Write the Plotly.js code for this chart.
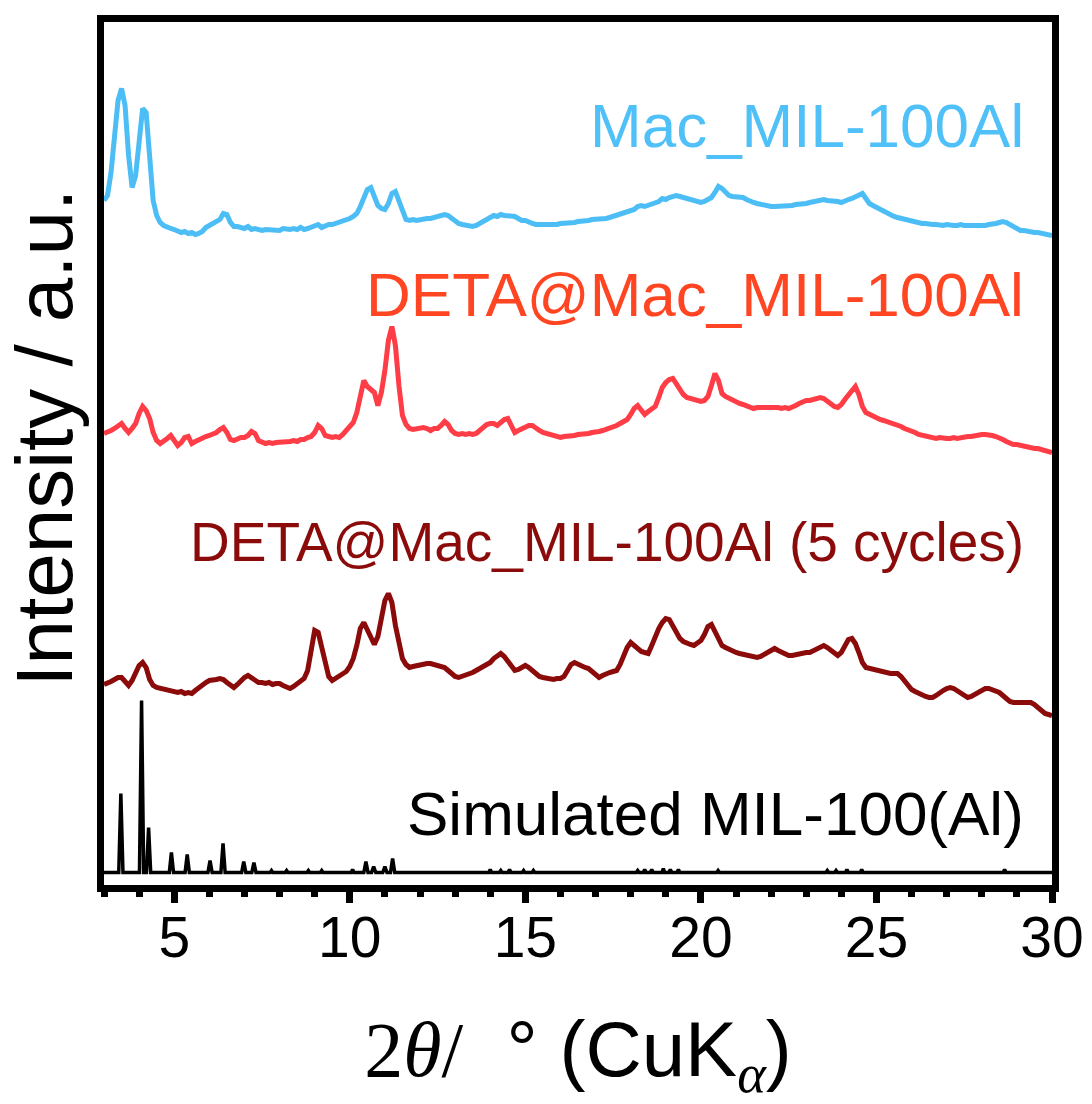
<!DOCTYPE html>
<html>
<head>
<meta charset="utf-8">
<script src="https://cdn.plot.ly/plotly-3.0.1.min.js"></script>
<style>html,body{margin:0;padding:0;background:#fff;}#chart{width:1092px;height:1104px;}</style>
</head>
<body>
<div id="chart"></div>
<script>
// 2theta grid: first angle and step (degrees) of the measured patterns
const twoThetaStart = 3.0;
const twoThetaStep = 0.1;

// Mac_MIL-100Al (stacked intensity, a.u.), 3.0 .. 30.0 deg
const macMIL = [
688,693,716,753,788,800,783,733,701,713,
753,780,776,728,688,673,666,663,661,660,
659,657,656,657,655,656,654,655,657,661,
663,664,666,669,675,674,666,662,662,661,
660,662,659,660,659,658,659,659,658,659,
658,660,659,659,660,659,661,659,660,661,
662,664,661,663,664,664,665,666,667,669,
670,672,675,682,692,699,701,692,683,680,
679,685,695,697,688,676,669,668,669,668,
669,669,670,670,671,672,673,674,673,670,
667,665,664,663,662,662,663,665,667,669,
671,673,672,674,673,673,672,672,670,668,
668,666,665,664,664,663,664,663,664,664,
665,665,666,666,666,667,667,668,668,669,
669,670,670,670,671,672,673,674,676,677,
678,679,682,683,682,683,685,686,687,690,
689,691,692,693,692,691,689,688,687,686,
686,687,689,691,696,702,700,696,693,692,
692,691,691,689,687,686,685,684,683,683,
682,682,682,683,682,683,683,684,684,685,
685,686,687,688,689,689,688,688,687,687,
686,688,689,690,692,694,695,690,685,683,
681,679,677,675,674,672,671,670,669,668,
667,667,666,665,665,664,664,664,663,663,
664,663,663,663,664,663,663,662,663,663,
663,663,664,664,665,666,667,666,664,661,
659,658,658,657,657,656,656,655,655,654,
653];

// DETA@Mac_MIL-100Al
const detaMIL = [
455,456,458,460,463,465,460,456,460,465,
475,482,478,470,456,448,445,447,450,453,
448,443,446,451,452,445,447,449,450,452,
453,454,456,459,461,456,449,448,450,451,
451,453,457,455,448,446,445,446,445,446,
446,447,446,447,448,447,449,449,451,452,
456,463,460,453,452,451,452,451,454,458,
461,466,476,495,508,502,499,496,483,496,
518,548,562,543,503,473,464,460,459,460,
461,461,460,458,460,460,463,467,464,458,
455,454,455,454,455,454,455,458,461,464,
465,465,463,466,469,470,462,456,458,460,
462,463,463,460,458,456,455,454,453,452,
451,452,452,453,453,454,454,455,455,456,
456,457,458,459,460,461,463,465,467,469,
474,480,483,478,474,477,480,482,491,501,
506,509,510,504,498,494,491,490,489,488,
487,488,492,503,515,508,495,492,490,488,
486,485,484,483,481,480,481,481,482,482,
482,482,481,480,481,480,481,483,485,487,
488,488,489,490,491,490,487,484,482,481,
484,489,494,499,502,494,482,476,474,472,
470,469,468,467,466,464,463,462,460,459,
457,456,454,453,452,451,451,450,451,450,
450,450,451,450,451,451,452,452,453,453,
454,454,454,453,452,451,449,447,445,444,
444,443,442,442,441,440,440,439,438,437,
436];

// DETA@Mac_MIL-100Al (5 cycles)
const detaMIL5 = [
204,205,207,209,211,211,206,203,208,215,
223,226,221,209,203,201,200,199,198,198,
197,196,197,195,196,195,198,201,204,206,
208,208,209,210,209,206,203,201,204,208,
211,213,211,208,206,206,205,206,204,205,
205,203,202,200,202,205,208,210,218,240,
258,256,240,223,212,208,210,212,214,217,
222,230,243,260,266,258,250,244,252,270,
288,295,286,263,243,230,224,221,222,223,
224,224,225,225,224,223,222,221,218,215,
212,211,212,214,215,216,218,220,222,223,
226,230,233,235,232,227,222,218,219,221,
223,221,218,215,212,211,210,210,209,210,
210,212,218,224,226,224,222,221,220,217,
214,211,213,215,216,217,218,224,233,241,
246,243,239,237,236,235,243,252,260,266,
270,269,263,256,250,247,245,244,243,245,
248,254,262,264,256,248,243,241,239,237,
236,235,234,233,232,231,231,232,234,237,
239,240,238,236,234,233,233,234,235,235,
236,236,238,240,242,243,241,238,235,233,
236,243,249,250,245,236,226,221,220,219,
218,217,216,216,215,215,215,212,207,202,
199,197,195,194,192,191,191,193,196,198,
200,201,200,198,195,193,191,192,194,196,
198,200,200,199,197,196,193,190,187,186,
186,186,187,186,186,184,181,178,175,174,
173];

// Simulated MIL-100(Al): angle / intensity points of the calculated pattern
const simX = [3.0,
3.42,3.48,3.54, 4.01,4.07,4.13, 4.21,4.27,4.33, 4.86,4.92,4.98, 5.31,5.37,5.43,
5.96,6.02,6.08, 6.33,6.39,6.45, 6.92,6.98,7.04, 7.21,7.27,7.33, 7.73,7.77,7.81,
8.16,8.20,8.24, 8.78,8.82,8.86, 9.16,9.20,9.24, 10.04,10.08,10.12, 10.40,10.46,10.52,
10.62,10.68,10.74, 10.94,11.00,11.06, 11.16,11.22,11.28, 13.96,14.00,14.04, 14.26,14.30,14.34,
14.51,14.55,14.59, 14.91,14.95,14.99, 15.19,15.23,15.27, 18.16,18.20,18.24, 18.36,18.40,18.44,
18.56,18.60,18.64, 18.89,18.93,18.97, 19.09,19.13,19.17, 19.32,19.36,19.40, 20.45,20.49,20.53,
23.56,23.60,23.64, 23.81,23.85,23.89, 24.12,24.16,24.20, 24.54,24.58,24.62, 28.61,28.65,28.69,
30.0];
const simY = [16,
16,95,16, 16,188,16, 16,61,16, 16,36,16, 16,34,16,
16,28,16, 16,45,16, 16,27,16, 16,26,16, 16,18,16,
16,18,16, 16,18,16, 16,18,16, 16,19,16, 16,27,16,
16,22,16, 16,22,16, 16,30,16, 16,19,16, 16,18,16,
16,19,16, 16,18,16, 16,18,16, 16,18,16, 16,19,16,
16,19,16, 16,20,16, 16,19,16, 16,19,16, 16,18,16,
16,18,16, 16,18,16, 16,19,16, 16,19,16, 16,19,16,
16];

// Series labels and their anchor heights (same intensity units)
const seriesNames = ["Mac_MIL-100Al", "DETA@Mac_MIL-100Al", "DETA@Mac_MIL-100Al (5 cycles)", "Simulated MIL-100(Al)"];
const labelY = [763, 594, 347, 75];
const lineColors = ["#4DBEF5", "#FF3D46", "#8B0A0A", "#000000"];
const textColors = ["#4FC1F8", "#FF4522", "#8B0A0A", "#000000"];
const labelSizes = [62, 62, 55, 62];

const FONT = 'Arial, "Liberation Sans", sans-serif';
const SERIF = "'Liberation Serif', 'Times New Roman', serif";

const traces = [
  {x0: twoThetaStart, dx: twoThetaStep, y: macMIL, type: 'scatter', mode: 'lines',
   line: {color: lineColors[0], width: 5}, name: seriesNames[0]},
  {x0: twoThetaStart, dx: twoThetaStep, y: detaMIL, type: 'scatter', mode: 'lines',
   line: {color: lineColors[1], width: 5}, name: seriesNames[1]},
  {x0: twoThetaStart, dx: twoThetaStep, y: detaMIL5, type: 'scatter', mode: 'lines',
   line: {color: lineColors[2], width: 5}, name: seriesNames[2]},
  {x: simX, y: simY, type: 'scatter', mode: 'lines',
   line: {color: lineColors[3], width: 3.5}, name: seriesNames[3]}
];

const annotations = seriesNames.map((t, i) => ({
  text: t, x: 29.27, y: labelY[i], xref: 'x', yref: 'y',
  xanchor: 'right', yanchor: 'middle', showarrow: false,
  font: {family: FONT, size: labelSizes[i], color: textColors[i]}
}));
// y-axis title, placed as a rotated annotation so it can sit slightly above centre like the original
annotations.push({
  text: 'Intensity / a.u.', textangle: -90, showarrow: false,
  xref: 'paper', yref: 'y', x: -0.063, y: 451, xanchor: 'center', yanchor: 'middle',
  font: {family: FONT, size: 80, color: '#000'}
});

const layout = {
  width: 1092, height: 1104,
  margin: {l: 104, r: 40, t: 22, b: 219, pad: 0},
  paper_bgcolor: '#ffffff', plot_bgcolor: '#ffffff',
  showlegend: false,
  font: {family: FONT, color: '#000'},
  xaxis: {
    range: [3, 30], showgrid: false, zeroline: false,
    showline: true, linecolor: '#000', linewidth: 7, mirror: true,
    ticks: 'outside', ticklen: 11, tickwidth: 7, tickcolor: '#000',
    tick0: 0, dtick: 5, ticklabelstandoff: -14,
    minor: {dtick: 1, ticks: 'outside', ticklen: 5, tickwidth: 7, tickcolor: '#000', showgrid: false},
    tickfont: {family: FONT, size: 57, color: '#000'},
    title: {
      text: '<span style="font-family:' + SERIF + '">2<i>θ</i>/</span>  ° (CuK<sub><span style="font-family:' + SERIF + '"><i>α</i></span></sub>)',
      font: {family: FONT, size: 78, color: '#000'}, standoff: 60
    }
  },
  yaxis: {
    range: [3.5, 866.5], showgrid: false, zeroline: false,
    showline: true, linecolor: '#000', linewidth: 7, mirror: true,
    ticks: '', showticklabels: false
  },
  annotations: annotations
};

Plotly.newPlot('chart', traces, layout, {displayModeBar: false, staticPlot: true});
</script>
</body>
</html>
